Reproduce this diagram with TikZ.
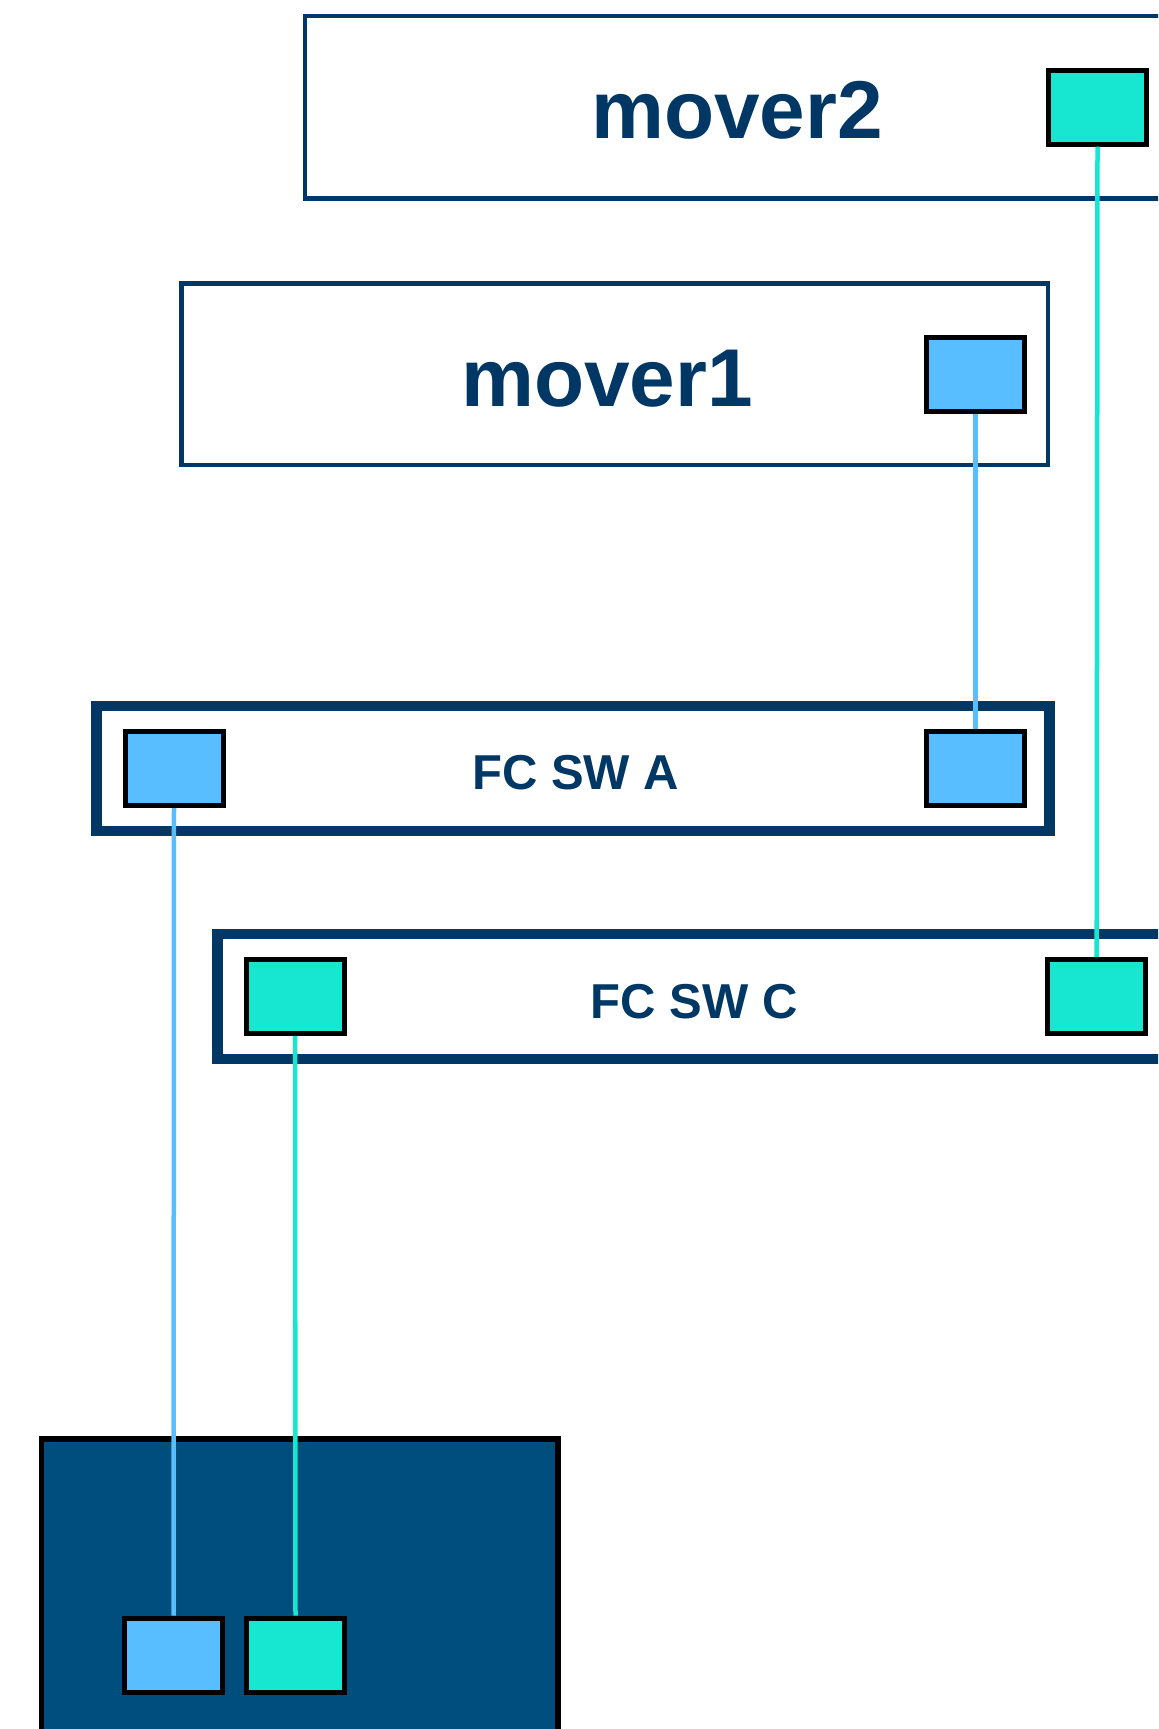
\documentclass[tikz,border=0pt]{standalone}
\usepackage{fontspec}
\setmainfont{Liberation Sans}
\definecolor{navy}{RGB}{0,55,100}
\definecolor{hostfill}{RGB}{0,78,126}
\definecolor{portblue}{RGB}{88,190,255}
\definecolor{portteal}{RGB}{23,230,209}
\begin{document}
\begin{tikzpicture}[x=1bp,y=-1bp,
  moverbox/.style={draw=navy,line width=4.5bp,fill=white,rectangle,inner sep=0pt},
  switchbox/.style={draw=navy,line width=10.5bp,fill=white,rectangle,inner sep=0pt},
  hostbox/.style={draw=black,line width=5.5bp,fill=hostfill,rectangle,inner sep=0pt},
  port/.style={draw=black,line width=5bp,rectangle,inner sep=0pt,minimum width=98bp,minimum height=74bp},
  bport/.style={port,fill=portblue},
  tport/.style={port,fill=portteal},
  bigtext/.style={text=navy,font=\bfseries\fontsize{82bp}{90bp}\selectfont,inner sep=0pt,anchor=base},
  swtext/.style={text=navy,font=\bfseries\fontsize{49bp}{54bp}\selectfont,inner sep=0pt,anchor=base},
  blink/.style={draw=portblue,line width=4.5bp},
  tlink/.style={draw=portteal,line width=4.5bp}]
\useasboundingbox (0,0) rectangle (1158,1729);
\clip (0,0) rectangle (1158,1729);

% data movers
\node[moverbox,minimum width=895bp,minimum height=182.7bp] (mover2) at (752.5,107.2) {};
\node[bigtext] (mover2lbl) at (737,138.3) {mover2};
\node[tport] (m2p) at (1097.5,107.2) {};

\node[moverbox,minimum width=866.7bp,minimum height=181.7bp] (mover1) at (614.7,374.2) {};
\node[bigtext] (mover1lbl) at (607,406) {mover1};
\node[bport] (m1p) at (975.4,374.5) {};

% fabric switches
\node[switchbox,minimum width=953bp,minimum height=125bp] (swa) at (573,768.5) {};
\node[swtext] (swalbl) at (575.6,789.3) {FC SW A};
\node[bport] (swal) at (174,768.5) {};
\node[bport] (swar) at (975.4,768.5) {};

\node[switchbox,minimum width=982.3bp,minimum height=125.3bp] (swc) at (708.9,996.4) {};
\node[swtext] (swclbl) at (694,1018) {FC SW C};
\node[tport] (swcl) at (295,996.4) {};
\node[tport] (swcr) at (1096.7,996.4) {};

% host
\node[hostbox,minimum width=516.1bp,minimum height=341.3bp] (host) at (299.75,1609.4) {};
\node[bport] (hb) at (173.5,1655) {};
\node[tport] (ht) at (295.5,1655) {};

% links
\draw[tlink] (m2p.south) -- (swcr.north);
\draw[blink] (m1p.south) -- (swar.north);
\draw[blink] (swal.south) -- (hb.north);
\draw[tlink] (swcl.south) -- (ht.north);
\end{tikzpicture}
\end{document}
